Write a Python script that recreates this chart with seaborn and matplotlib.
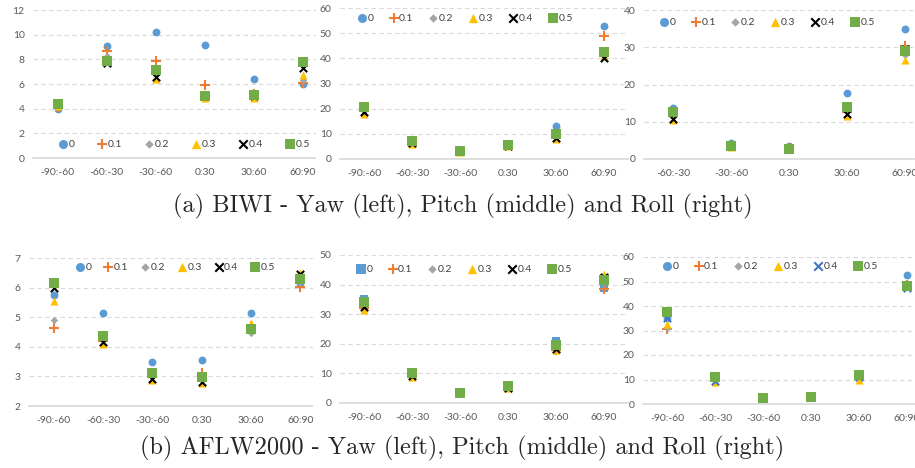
"""Six scatter panels: error per angle range for several noise levels (BIWI / AFLW2000)."""

import matplotlib.pyplot as plt
from matplotlib.patches import Rectangle
import seaborn as sns

RANGES = ['-90:-60', '-60:-30', '-30:-60', '0:30', '30:60', '60:90']
NOISE = ['0', '0.1', '0.2', '0.3', '0.4', '0.5']

# one row per noise level (0 ... 0.5), one column per angle range
biwi_yaw = [
    [4.0, 9.1, 10.2, 9.2, 6.4, 6.0],
    [4.1, 8.7, 7.9, 5.9, 5.2, 6.1],
    [4.3, 8.3, 7.0, 5.0, 5.0, 6.3],
    [4.2, 7.9, 6.4, 4.9, 4.9, 6.7],
    [4.5, 7.7, 6.6, 5.0, 5.0, 7.3],
    [4.4, 7.9, 7.1, 5.0, 5.1, 7.8],
]
biwi_pitch = [
    [20.0, 7.5, 3.2, 6.0, 13.2, 53.0],
    [19.0, 6.5, 3.0, 5.5, 9.0, 49.0],
    [19.5, 7.0, 3.0, 5.5, 9.0, 43.0],
    [18.0, 6.0, 2.8, 5.2, 8.0, 41.0],
    [18.5, 6.5, 3.0, 5.3, 8.5, 40.0],
    [20.5, 7.0, 3.0, 5.4, 10.0, 42.5],
]
# roll panel has no -90:-60 column
biwi_roll = [
    [13.8, 4.2, 3.4, 17.8, 35.0],
    [12.0, 3.5, 3.0, 12.5, 30.3],
    [12.5, 3.8, 3.0, 13.0, 28.0],
    [10.5, 3.2, 2.8, 11.5, 26.5],
    [10.8, 3.5, 2.9, 12.2, 29.5],
    [12.5, 3.6, 2.8, 14.0, 29.0],
]
aflw_yaw = [
    [5.75, 5.15, 3.47, 3.55, 5.15, 6.15],
    [4.62, 4.20, 3.00, 3.12, 4.70, 6.02],
    [4.90, 4.25, 3.05, 2.90, 4.45, 6.20],
    [5.55, 4.10, 2.88, 2.78, 4.82, 6.50],
    [6.00, 4.15, 2.92, 2.82, 4.65, 6.45],
    [6.15, 4.35, 3.10, 2.98, 4.60, 6.30],
]
aflw_pitch = [
    [35.0, 10.0, 3.5, 6.2, 21.0, 39.0],
    [32.0, 9.0, 3.5, 5.3, 18.0, 38.5],
    [33.0, 9.5, 3.5, 5.3, 18.5, 41.0],
    [31.5, 8.8, 3.5, 5.0, 17.8, 43.5],
    [32.5, 9.0, 3.5, 5.2, 18.2, 42.5],
    [34.0, 10.0, 3.5, 5.6, 19.5, 41.5],
]
aflw_roll = [
    [35.0, 11.0, 3.0, 3.2, 11.5, 52.5],
    [30.5, 9.5, 2.6, 2.8, 10.5, 48.5],
    [31.0, 10.0, 2.6, 2.8, 11.0, 48.0],
    [32.5, 9.0, 2.6, 2.8, 10.0, 48.5],
    [35.0, 9.5, 2.6, 2.8, 11.0, 47.5],
    [37.5, 11.0, 2.6, 2.8, 11.8, 48.0],
]

COLORS = ['#5B9BD5', '#ED7D31', '#A5A5A5', '#FFC000', '#000000', '#70AD47']
MARKERS = ['o', '+', 'D', '^', 'x', 's']
SIZES = [32, 45, 14, 34, 28, 44]

sns.set_theme(style='white')
plt.rcParams['font.family'] = ['Lato', 'DejaVu Sans']

W, H = 915, 468
fig = plt.figure(figsize=(W / 100, H / 100), dpi=100)


def add_axes(x0, x1, y_top, y_bot, z):
    ax = fig.add_axes([x0 / W, 1 - y_bot / H, (x1 - x0) / W, (y_bot - y_top) / H])
    ax.set_zorder(z)
    return ax


def panel(ax, data, cats, ylim, yticks, legend_xy, colspacing,
          markers=MARKERS, colors=COLORS):
    for i, vals in enumerate(data):
        sns.scatterplot(x=cats, y=vals, ax=ax, marker=markers[i], color=colors[i],
                        s=SIZES[i], linewidth=1.5 if markers[i] in '+x' else 0,
                        label=NOISE[i], zorder=3 + i)
    ax.set_xlim(-0.5, len(cats) - 0.5)
    ax.set_ylim(*ylim)
    ax.set_yticks(yticks)
    ax.set_xlabel('')
    ax.set_ylabel('')
    ax.grid(axis='y', color='#D9D9D9', linestyle=(0, (4, 3)), linewidth=0.8)
    ax.set_axisbelow(True)
    for s in ['top', 'right', 'left']:
        ax.spines[s].set_visible(False)
    ax.spines['bottom'].set_color('#D9D9D9')
    ax.tick_params(length=0, labelsize=7.5, colors='#595959')
    ax.tick_params(axis='y', pad=6)
    ax.tick_params(axis='x', pad=7)
    ax.legend(loc='center', bbox_to_anchor=(legend_xy[0] / W, 1 - legend_xy[1] / H),
              bbox_transform=fig.transFigure, ncol=6, frameon=False,
              fontsize=7.5, handletextpad=0.05, columnspacing=colspacing,
              handlelength=1.0, borderpad=0, markerscale=1.15, labelcolor='#404040')


# white strips hide the right edge of the panel underneath
def cover(x0, x1, y0, y1):
    fig.patches.append(Rectangle((x0 / W, 1 - y1 / H), (x1 - x0) / W, (y1 - y0) / H,
                                 transform=fig.transFigure, facecolor='white',
                                 edgecolor='none', zorder=1))


# ── (a) BIWI ───────────────────────────────────────────────────────────────
ax = add_axes(33, 327, 10, 158, 0)
panel(ax, biwi_yaw, RANGES, (0, 12), range(0, 13, 2), (184, 144), 2.1)
cover(316, 340, 0, 195)
ax = add_axes(340, 628, 8, 159, 2)
panel(ax, biwi_pitch, RANGES, (0, 60), range(0, 61, 10), (465, 18), 1.4)
cover(617, 644, 0, 195)
ax = add_axes(644, 934, 10, 159, 4)
panel(ax, biwi_roll, RANGES[1:], (0, 40), range(0, 41, 10), (767, 22), 1.4)

# ── (b) AFLW2000 ───────────────────────────────────────────────────────────
ax = add_axes(29, 325, 258, 406, 0)
panel(ax, aflw_yaw, RANGES, (2, 7), range(2, 8), (175, 267), 1.1)
cover(313, 340, 240, 432)
ax = add_axes(340, 628, 255, 403, 2)
panel(ax, aflw_pitch, RANGES, (0, 50), range(0, 51, 10), (464, 269), 1.4,
      markers=['s'] + MARKERS[1:])
cover(617, 643, 240, 432)
ax = add_axes(643, 931, 257, 404, 4)
panel(ax, aflw_roll, RANGES, (0, 60), range(0, 61, 10), (770, 266), 1.4,
      colors=COLORS[:4] + ['#4472C4'] + COLORS[5:])

cap = dict(fontsize=17.5, family='cmr10', ha='center', va='center')
fig.text(463 / W, 1 - 206 / H, '(a) BIWI - Yaw (left), Pitch (middle) and Roll (right)', **cap)
fig.text(462 / W, 1 - 448 / H, '(b) AFLW2000 - Yaw (left), Pitch (middle) and Roll (right)', **cap)

fig.savefig('out.png', dpi=100)
